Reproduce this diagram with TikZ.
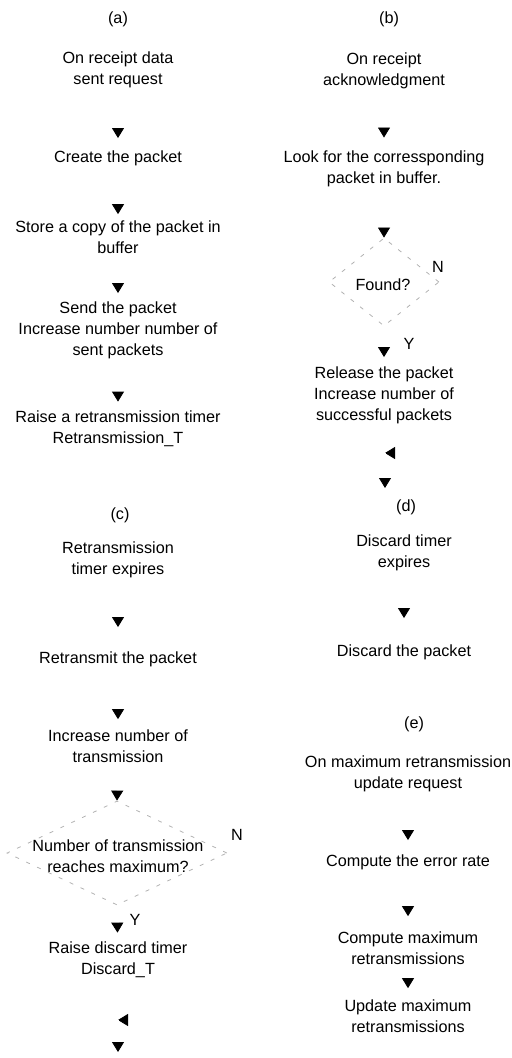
\documentclass[tikz,border=0pt]{standalone}
\usepackage{fontspec}
\setmainfont{Liberation Sans}
\usetikzlibrary{arrows.meta,shapes.geometric}

\begin{document}
\begin{tikzpicture}[x=0.5pt,y=-0.5pt,
	txt/.style={align=center, inner sep=1pt, font=\fontsize{8.1}{10.5}\selectfont},
	decision/.style={diamond, draw=black!30, dash pattern=on 2pt off 4pt, thin, inner sep=0pt},
	flow/.style={draw=white, -{Triangle[width=6pt,length=5pt,color=black,fill=black]}}]
	\useasboundingbox (0,0) rectangle (512,1058);

	% (a) data sent request
	\node[txt] (labA) at (118,19) {(a)};
	\node[txt] (reqA) at (118,70) {On receipt data\\sent request};
	\node[txt] (create) at (118,158) {Create the packet};
	\node[txt] (store) at (118,237) {Store a copy of the packet in\\buffer};
	\node[txt] (send) at (118,330) {Send the packet\\Increase number number of\\sent packets};
	\node[txt] (raiseT) at (118,429) {Raise a retransmission timer\\Retransmission\_T};
	\draw[flow, shorten >=5pt] (reqA) -- (create);
	\draw[flow, shorten >=2pt] (store.north |- create.south) -- (store);
	\draw[flow, shorten >=3pt] (store) -- (send);
	\draw[flow, shorten >=3.5pt] (send) -- (raiseT);

	% (b) acknowledgment
	\node[txt] (labB) at (389,19) {(b)};
	\node[txt] (ack) at (384,71) {On receipt\\acknowledgment};
	\node[txt] (look) at (384,169) {Look for the corressponding\\packet in buffer.};
	\node[decision, minimum width=55pt, minimum height=44pt] (found) at (384,282) {};
	\node[txt] (foundT) at (383,285) {Found?};
	\node[txt] (release) at (384,395) {Release the packet\\Increase number of\\successful packets};
	\node[txt] (nB) at (438,267) {N};
	\node[txt] (yB) at (409,344) {Y};
	\coordinate (mergeB) at (385,453);
	\coordinate (endB) at (385,488);
	\draw[flow, shorten >=5.5pt] (ack) -- (look);
	\draw[flow] (look) -- (found.north);
	\draw[flow, shorten >=3.5pt] (found.south) -- (release);
	\draw[flow] (found.east) -- ++(30,0) |- (mergeB);
	\draw[flow] (mergeB) -- (endB);

	% (c) retransmission timer
	\node[txt] (labC) at (120,515) {(c)};
	\node[txt] (expC) at (118,560) {Retransmission\\timer expires};
	\node[txt] (retx) at (118,659) {Retransmit the packet};
	\node[txt] (incr) at (118,746) {Increase number of\\transmission};
	\node[decision, minimum width=110pt, minimum height=52pt] (maxq) at (117,853) {};
	\node[txt] (maxqT) at (118,856) {Number of transmission\\reaches maximum?};
	\node[txt] (raiseD) at (118,960) {Raise discard timer\\Discard\_T};
	\node[txt] (nC) at (237,835) {N};
	\node[txt] (yC) at (135,920) {Y};
	\coordinate (mergeC) at (118,1020);
	\coordinate (endC) at (118,1052);
	\draw[flow, shorten >=11pt] (expC) -- (retx);
	\draw[flow, shorten >=4pt] (retx) -- (incr);
	\draw[flow] (incr) -- (maxq.north);
	\draw[flow, shorten >=3.5pt] (maxq.south) -- (raiseD);
	\draw[flow] (maxq.east) -- ++(25,0) |- (mergeC);
	\draw[flow] (mergeC) -- (endC);

	% (d) discard timer
	\node[txt] (labD) at (406,507) {(d)};
	\node[txt] (expD) at (404,553) {Discard timer\\expires};
	\node[txt] (discard) at (404,652) {Discard the packet};
	\draw[flow, shorten >=12pt] (expD) -- (discard);

	% (e) maximum retransmission update
	\node[txt] (labE) at (414,724) {(e)};
	\node[txt] (updreq) at (408,774) {On maximum retransmission\\update request};
	\node[txt] (errrate) at (408,862) {Compute the error rate};
	\node[txt] (compmax) at (408,948) {Compute maximum\\retransmissions};
	\node[txt] (updmax) at (408,1016) {Update maximum\\retransmissions};
	\draw[flow, shorten >=6pt] (updreq) -- (errrate);
	\draw[flow, shorten >=6.5pt] (errrate) -- (compmax);
	\draw[flow, shorten >=4.5pt] (compmax) -- (updmax);
\end{tikzpicture}
\end{document}
